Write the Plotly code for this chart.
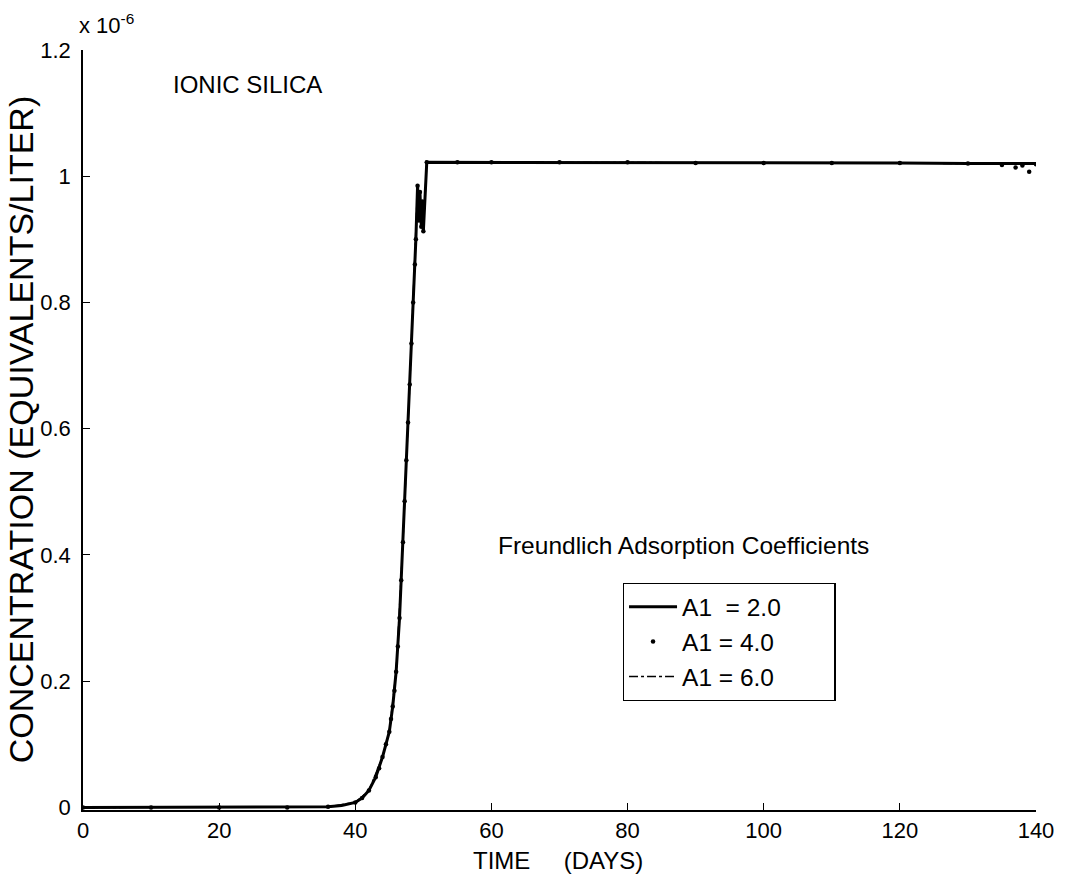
import plotly.graph_objects as go

# Breakthrough curve of ionic silica, concentration in units of 1e-6 eq/L
days_a2 = [0, 10, 20, 30, 34, 36, 38, 39, 40, 41, 42, 43, 44, 44.5, 45, 45.5, 46,
           46.5, 47, 47.5, 48, 48.5, 48.9, 49.15, 49.35, 49.5, 49.7, 49.85, 50.0,
           50.5, 60, 80, 100, 120, 130, 140]
conc_a2 = [0, 0, 0, 0, 0.0005, 0.001, 0.003, 0.005, 0.008, 0.015, 0.027, 0.048, 0.08,
           0.10, 0.12, 0.16, 0.215, 0.30, 0.42, 0.55, 0.67, 0.80, 0.90, 0.985, 0.93,
           0.975, 0.92, 0.96, 0.913, 1.022, 1.022, 1.022, 1.021, 1.021, 1.020, 1.020]

days_a4 = [0, 10, 20, 30, 36, 40, 41, 42, 43, 43.5, 44, 44.5, 45, 45.25, 45.5, 45.75,
           46, 46.25, 46.5, 46.75, 47, 47.25, 47.5, 47.75, 48, 48.25, 48.5, 48.75,
           48.9, 49.15, 49.35, 49.5, 49.7, 49.85, 50.0, 50.5, 55, 60, 70, 80, 90,
           100, 110, 120, 130, 135, 137, 138, 139, 140]
conc_a4 = [0, 0, 0, 0, 0.001, 0.008, 0.015, 0.027, 0.048, 0.062, 0.08, 0.10, 0.12,
           0.14, 0.16, 0.185, 0.215, 0.255, 0.30, 0.36, 0.42, 0.485, 0.55, 0.61,
           0.67, 0.735, 0.80, 0.86, 0.90, 0.985, 0.93, 0.975, 0.92, 0.96, 0.913,
           1.022, 1.022, 1.022, 1.022, 1.022, 1.021, 1.021, 1.021, 1.021, 1.020,
           1.018, 1.014, 1.017, 1.007, 1.019]

days_a6 = [0, 10, 20, 30, 36, 40, 42, 44, 45, 46, 47, 48, 48.9, 49.15, 49.35, 49.5,
           49.7, 49.85, 50.0, 50.5, 60, 80, 100, 120, 140]
conc_a6 = [0, 0, 0, 0, 0.001, 0.008, 0.027, 0.08, 0.12, 0.215, 0.42, 0.67, 0.90,
           0.985, 0.93, 0.975, 0.92, 0.96, 0.913, 1.022, 1.022, 1.022, 1.021,
           1.021, 1.019]

x_ticks = [0, 20, 40, 60, 80, 100, 120, 140]
y_ticks = [0, 0.2, 0.4, 0.6, 0.8, 1.0, 1.2]
y_tick_text = ["0", "0.2", "0.4", "0.6", "0.8", "1", "1.2"]

FONT = "Liberation Sans, Arial, Helvetica, sans-serif"
NB = "\u00a0"
PAD = NB * 7

fig = go.Figure()
fig.add_trace(go.Scatter(
    x=days_a2, y=conc_a2, mode="lines", name=f"A1{NB}{NB}= 2.0" + PAD,
    line=dict(color="black", width=3),
))
fig.add_trace(go.Scatter(
    x=days_a4, y=conc_a4, mode="markers", name="A1 = 4.0" + PAD,
    marker=dict(color="black", size=4.5),
))
fig.add_trace(go.Scatter(
    x=days_a6, y=conc_a6, mode="lines", name="A1 = 6.0" + PAD,
    line=dict(color="black", width=1.5, dash="dashdot"),
))

fig.update_layout(
    width=1066, height=875,
    margin=dict(l=83, r=26, t=50, b=65),
    paper_bgcolor="white", plot_bgcolor="white",
    font=dict(family=FONT, size=22, color="black"),
    showlegend=True,
    legend=dict(
        x=(625 - 83) / 957, y=(810 - 583) / 760, xanchor="left", yanchor="top",
        bgcolor="white", bordercolor="black", borderwidth=1.3,
        font=dict(family=FONT, size=24.5, color="black"),
        tracegroupgap=0, itemwidth=48,
    ),
    xaxis=dict(
        range=[0, 140], tickvals=x_ticks, ticks="inside", ticklen=7,
        tickcolor="black", tickwidth=1.3, showline=True, linecolor="black",
        linewidth=1.5, showgrid=False, zeroline=False, mirror=False,
        tickfont=dict(size=22),
    ),
    yaxis=dict(
        range=[-0.004, 1.2], tickvals=y_ticks, ticktext=y_tick_text,
        ticks="inside", ticklen=7, tickcolor="black", tickwidth=1.3,
        showline=True, linecolor="black", linewidth=1.5, showgrid=False,
        zeroline=False, mirror=False, tickfont=dict(size=22),
        ticklabelstandoff=6,
    ),
    annotations=[
        dict(text="x 10<sup>-6</sup>", xref="paper", yref="paper",
             x=(77 - 83) / 957, y=(810 - 24) / 760, xanchor="left",
             yanchor="middle", showarrow=False, font=dict(size=22)),
        dict(text="IONIC SILICA", xref="paper", yref="paper",
             x=(248 - 83) / 957, y=(810 - 84) / 760, xanchor="center",
             yanchor="middle", showarrow=False, font=dict(size=24)),
        dict(text="Freundlich Adsorption Coefficients", xref="paper",
             yref="paper", x=(686 - 83) / 957, y=(810 - 545) / 760,
             xanchor="center", yanchor="middle", showarrow=False,
             font=dict(size=24.5)),
        dict(text=f"TIME{NB*4} (DAYS)", xref="paper", yref="paper",
             x=(560 - 83) / 957, y=(810 - 860) / 760, xanchor="center",
             yanchor="middle", showarrow=False, font=dict(size=24)),
        dict(text="CONCENTRATION (EQUIVALENTS/LITER)", xref="paper",
             yref="paper", x=(21 - 83) / 957, y=0.5, xanchor="center",
             yanchor="middle", textangle=-90, showarrow=False,
             font=dict(size=34)),
    ],
)

fig.write_html("out.html")
